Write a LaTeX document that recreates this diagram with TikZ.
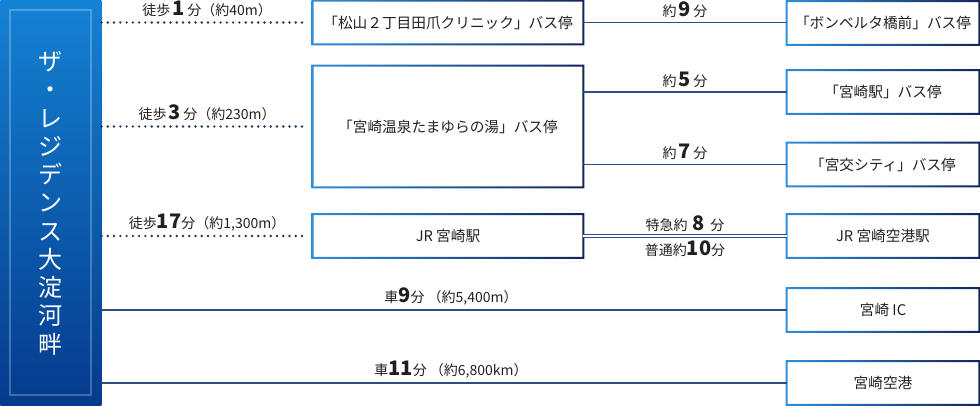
\documentclass[tikz,border=0pt]{standalone}
\usepackage{fontspec}
\setmainfont{Noto Sans CJK JP}
\usetikzlibrary{positioning}
\definecolor{panelTop}{HTML}{1482D3}
\definecolor{panelBot}{HTML}{053A8C}
\definecolor{frameLight}{HTML}{2F8FD8}
\definecolor{frameDark}{HTML}{14245A}
\definecolor{lineBlue}{HTML}{2A4F80}
\definecolor{ink}{HTML}{231F20}
\newcommand{\num}[1]{{\fontsize{15pt}{15pt}\selectfont\bfseries #1}}

\begin{document}
\begin{tikzpicture}[x=0.75pt,y=-0.75pt,
  font=\fontsize{10.5pt}{12pt}\selectfont, text=ink,
  stop/.style={rectangle,minimum height=43*0.75pt,inner sep=0pt,font=\fontsize{11pt}{13pt}\selectfont},
  midstop/.style={stop,minimum width=270*0.75pt},
  endstop/.style={stop,minimum width=192*0.75pt},
  walk/.style={draw=lineBlue!70!black,line width=2pt,line cap=round,dash pattern=on 0pt off 4.7pt,shorten >=5*0.75pt},
  ride/.style={draw=lineBlue,line width=0.8pt},
  time/.style={above=1pt,inner sep=2pt}]
\useasboundingbox (0,0) rectangle (980,406);

% left panel
\node (residence) [anchor=north west,inner sep=0pt,minimum width=101*0.75pt,minimum height=406*0.75pt,
    top color=panelTop,bottom color=panelBot] at (0,0) {};
\draw [white,opacity=.25,line width=1.2pt] (10,10) rectangle (91,395);
\node (title) [text=white,align=center,font=\fontsize{18pt}{21.2pt}\selectfont] at (residence.center)
    {ザ\\・\\レ\\ジ\\デ\\ン\\ス\\大\\淀\\河\\畔};

% stops
\node (kurinikku) [midstop] at (448,22.5) {「松山２丁目田爪クリニック」バス停};
\node (tamayura) [midstop,minimum height=121*0.75pt] at (448,126.5) {「宮崎温泉たまゆらの湯」バス停};
\node (jrmiyazaki) [midstop] at (448,236) {JR 宮崎駅};
\node (bonberuta) [endstop] at (883,23) {「ボンベルタ橋前」バス停};
\node (ekimae) [endstop] at (883,92) {「宮崎駅」バス停};
\node (miyako) [endstop] at (883,164.5) {「宮交シティ」バス停};
\node (kukoeki) [endstop] at (883,236) {JR 宮崎空港駅};
\node (ic) [endstop] at (883,310) {宮崎 IC};
\node (kuko) [endstop] at (883,383) {宮崎空港};

\foreach \n in {kurinikku,tamayura,jrmiyazaki,bonberuta,ekimae,miyako,kukoeki,ic,kuko}
  \shade [left color=frameLight,right color=frameDark,even odd rule]
    ([shift={(-1,-1)}]\n.north west) rectangle ([shift={(1,1)}]\n.south east)
    ([shift={(1,1)}]\n.north west) rectangle ([shift={(-1,-1)}]\n.south east);

% on foot
\draw [walk] (residence.east |- kurinikku.west) -- node [time] {徒歩\,\num{1}\,分（約40m）} (kurinikku.west);
\draw [walk] (residence.east |- tamayura.west) -- node [time] {徒歩\,\num{3}\,分（約230m）} (tamayura.west);
\draw [walk] (residence.east |- jrmiyazaki.west) -- node [time] {徒歩\num{17}分（約1,300m）} (jrmiyazaki.west);

% bus and train
\draw [ride] (kurinikku.east) -- node [time] {約\,\num{9}\,分} (kurinikku.east -| bonberuta.west);
\draw [ride] (tamayura.east |- ekimae.west) -- node [time] {約\,\num{5}\,分} (ekimae.west);
\draw [ride] (tamayura.east |- miyako.west) -- node [time] {約\,\num{7}\,分} (miyako.west);
\draw [ride,line width=0.7pt,double=white,double distance=1pt] (jrmiyazaki.east) --
    node [time] {特急約\hspace{4pt}\num{8}\hspace{4pt}分} node [below=1pt,inner sep=2pt] {普通約\num{10}分} (kukoeki.west);

% by car
\draw [ride] (residence.east |- ic.west) -- node [time,pos=.51] {車\num{9}分 （約5,400m）} (ic.west);
\draw [ride] (residence.east |- kuko.west) -- node [time,pos=.51] {車\num{11}分 （約6,800km）} (kuko.west);
\end{tikzpicture}
\end{document}
